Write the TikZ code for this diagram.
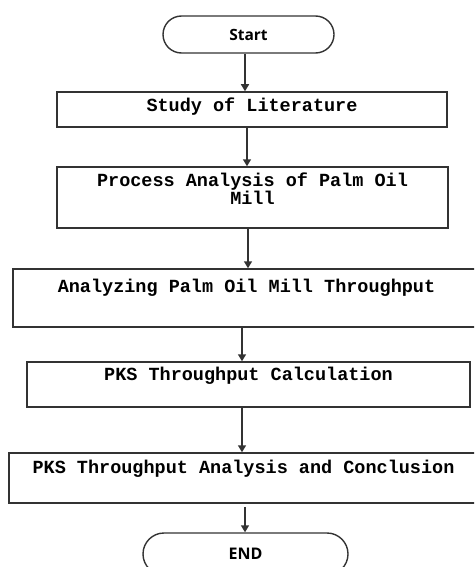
\documentclass[tikz,border=0pt]{standalone}
\usepackage{fontspec}
\setmonofont{Liberation Mono}
\newfontfamily\opensans{Open Sans}
\usetikzlibrary{arrows.meta}
\definecolor{linec}{HTML}{333333}
\newcommand\boxfont{\ttfamily\bfseries\fontsize{18.5}{16}\selectfont\lineskiplimit=-10pt\relax}
\begin{document}
\begin{tikzpicture}[x=1pt,y=-1pt,
  box/.style={draw=linec, line width=1.5pt, rectangle, inner sep=2pt, font=\boxfont, text height=10.6pt},
  term/.style={draw=linec, line width=1.4pt, rectangle, inner sep=2pt},
  arr/.style={draw=linec, line width=1.5pt, -{Triangle[width=8pt,length=7pt]}}]
\useasboundingbox (0,0) rectangle (474,567);
\clip (0,0) rectangle (474,567);
\node[term, minimum width=171pt, minimum height=37pt, rounded corners=18.5pt, font=\opensans\bfseries\fontsize{15.5}{18}\selectfont] (start) at (248.5,34.5) {Start};
\node[box, minimum width=390pt, minimum height=35pt, text depth=7pt] (b1) at (252,109.5) {Study of Literature};
\node[box, minimum width=391pt, minimum height=61pt, text depth=33pt] (b2) at (252.5,197.5) {\parbox[t]{380pt}{\centering Process Analysis of Palm Oil\\Mill}};
\node[box, minimum width=467pt, minimum height=58pt, text depth=22pt] (b3) at (246.5,298) {Analyzing Palm Oil Mill Throughput};
\node[box, minimum width=443pt, minimum height=45pt, text depth=19pt] (b4) at (248.5,384.5) {PKS Throughput Calculation};
\node[box, minimum width=469pt, minimum height=50pt, text depth=20pt] (b5) at (243.5,478) {PKS Throughput Analysis and Conclusion};
\node[term, minimum width=205pt, minimum height=42pt, rounded corners=21pt, font=\opensans\bfseries\fontsize{16}{20}\selectfont] (end) at (245.5,554) {END};
\draw[arr] (start.south -| 245,0) -- (b1.north -| 245,0);
\draw[arr] (b1.south -| 247,0) -- (b2.north -| 247,0);
\draw[arr] (b2.south -| 248,0) -- (b3.north -| 248,0);
\draw[arr] (b3.south -| 242,0) -- (b4.north -| 242,0);
\draw[arr] (b4.south -| 242,0) -- (b5.north -| 242,0);
\draw[arr] ([yshift=-3pt]b5.south -| 245,0) -- (end.north -| 245,0);
\end{tikzpicture}
\end{document}
